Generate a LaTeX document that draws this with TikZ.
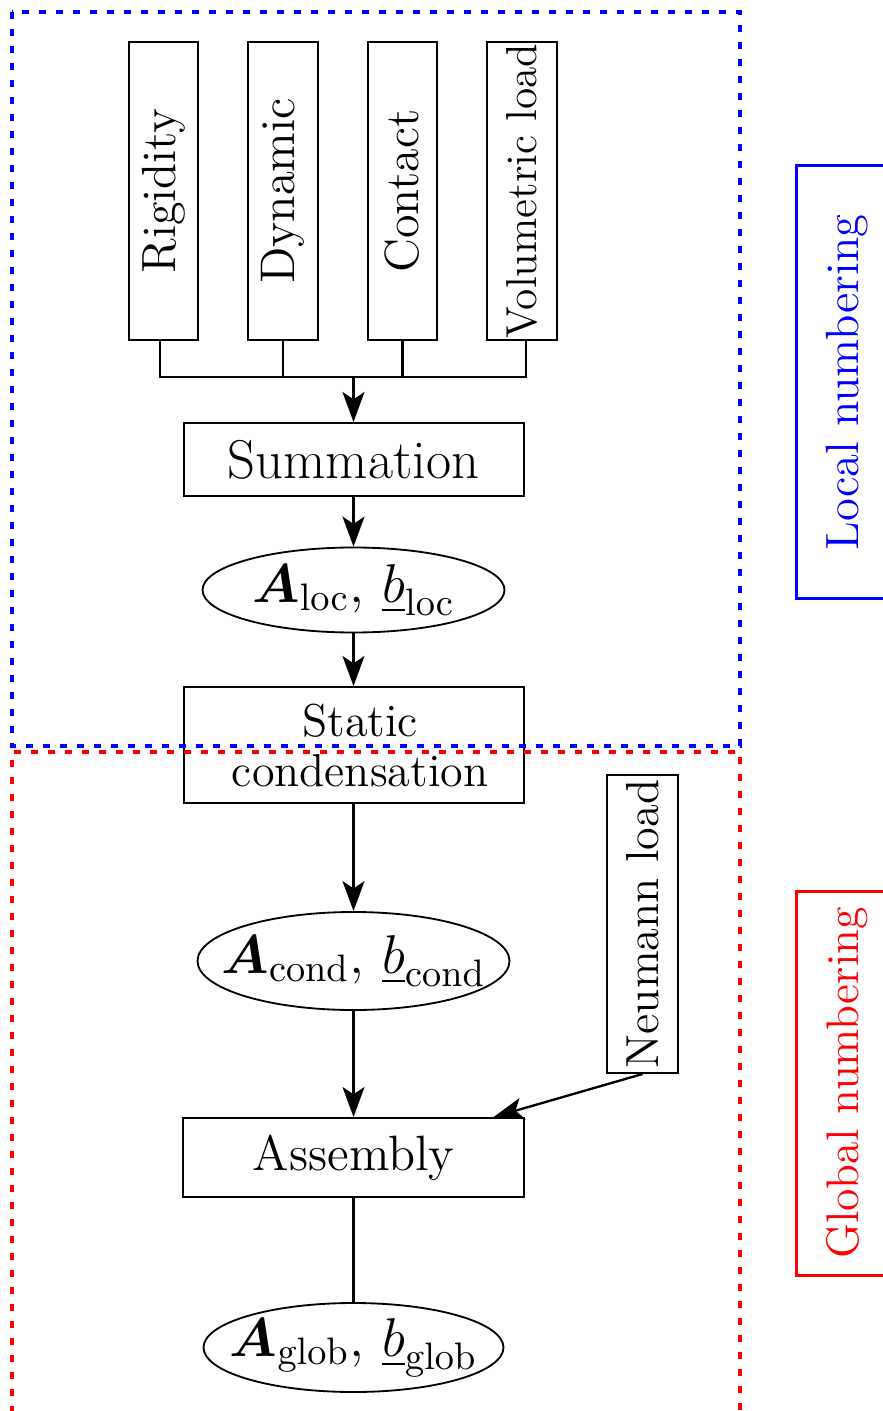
\RequirePackage{fix-cm}
\documentclass[tikz,border=0pt]{standalone}
\usepackage{amsmath}
\usetikzlibrary{arrows.meta,shapes.geometric}
\tikzset{
 box/.style={draw, line width=0.6pt, inner sep=0pt, align=center},
 oval/.style={draw, ellipse, line width=0.55pt, inner sep=0pt},
 arr/.style={line width=0.7pt, -{Stealth[length=9pt,width=6.6pt,inset=2.2pt]}},
 conn/.style={line width=0.7pt},
 zone/.style={line width=1pt, dash pattern=on 2.1pt off 3pt},
 tag/.style={draw, line width=0.9pt, inner sep=0pt, minimum width=30.6pt},
 vbox/.style={box, minimum width=20.9pt, minimum height=89.4pt},
 mathfont/.style={font=\fontsize{16.4}{19}\selectfont},
}
\newcommand{\pairtxt}[1]{\makebox[0pt]{$\boldsymbol{A}_{\mathrm{#1}},\,\underline{b}_{\mathrm{#1}}$}}
\begin{document}
\begin{tikzpicture}[x=0.3pt,y=-0.3pt]
\useasboundingbox (0,0) rectangle (883,1411);
% top inputs
\node[vbox] (rig) at (163.5,191) {\rotatebox{90}{\fontsize{14.4}{17}\selectfont Rigidity}};
\node[vbox] (dyn) at (283,191) {\rotatebox{90}{\fontsize{14.6}{17}\selectfont Dynamic}};
\node[vbox] (cnt) at (402.5,191) {\rotatebox{90}{\fontsize{14.4}{17}\selectfont Contact}};
\node[vbox] (vol) at (522,191) {\rotatebox{90}{\fontsize{13}{15}\selectfont Volumetric load}};
\coordinate (bus) at (353.5,377);
% main chain
\node[box, minimum width=102pt, minimum height=21.9pt, font=\fontsize{16.4}{19}\selectfont] (sum) at (353.5,459.5) {Summation};
\node[oval, mathfont, minimum width=90.6pt, minimum height=25.5pt] (loc) at (353.5,590) {\pairtxt{loc}};
\node[box, minimum width=102pt, minimum height=34.8pt, font=\fontsize{13.85}{15}\selectfont] (stat) at (353.5,745) {\hspace*{4pt}Static\\\hspace*{4pt}condensation};
\node[oval, mathfont, minimum width=93.6pt, minimum height=29.4pt] (cond) at (353.5,961) {\pairtxt{cond}};
\node[box, minimum width=102.3pt, minimum height=23.7pt, font=\fontsize{14.9}{17}\selectfont] (asm) at (353.5,1157.5) {Assembly};
\node[oval, mathfont, minimum width=90pt, minimum height=26.7pt] (glob) at (353.5,1347.5) {\pairtxt{glob}};
\node[vbox, minimum width=21.3pt] (neu) at (642.5,924) {\rotatebox{90}{\fontsize{13.9}{16}\selectfont Neumann load}};
% side labels
\node[tag, draw=blue, text=blue, minimum height=129.9pt] (lnum) at (847,382.5) {\rotatebox{90}{\fontsize{14}{16}\selectfont Local numbering}};
\node[tag, draw=red, text=red, minimum height=115.2pt] (gnum) at (847,1083) {\rotatebox{90}{\fontsize{13.7}{15}\selectfont Global numbering}};
% connectors
\draw[conn] ([xshift=-1pt]rig.south) -- ([xshift=-1pt]rig.south |- bus) -- ([xshift=1.2pt]vol.south |- bus) -- ([xshift=1.2pt]vol.south);
\draw[conn] (dyn.south) -- (dyn.south |- bus);
\draw[conn] (cnt.south) -- (cnt.south |- bus);
\draw[arr] (bus) -- (sum.north);
\draw[arr] (sum) -- (loc);
\draw[arr] (loc) -- (stat);
\draw[arr] (stat) -- (cond);
\draw[arr] (cond) -- (asm);
\draw[arr] (neu.south) -- (asm);
\draw[conn] (asm) -- (glob);
% zones
\draw[zone, blue] (12,12) rectangle (740,746);
\draw[zone, red] (12,1430) -- (12,752) -- (740,752) -- (740,1430);
\end{tikzpicture}
\end{document}
